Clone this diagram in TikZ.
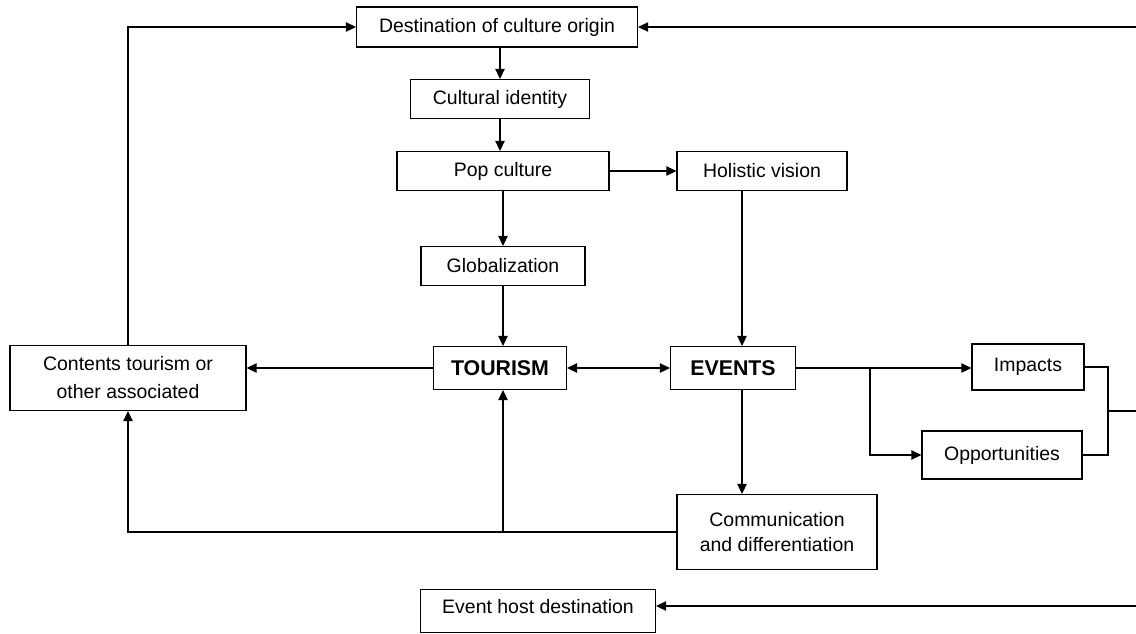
\documentclass[tikz,border=0pt]{standalone}
\usepackage{fontspec}
\setmainfont{Liberation Sans}
\usetikzlibrary{%
        arrows.meta,%
        calc%
    }

\tikzset{%
  box/.style={draw, thick, align=center, inner sep=2pt, font=\fontsize{14.6}{19}\selectfont},
  bigbox/.style={box, font=\fontsize{16}{19}\selectfont\bfseries},
  wd/.style={minimum width=#1*0.75pt},
  ht/.style={minimum height=#1*0.75pt},
  arr/.style={thick, -{Triangle[length=7.5pt,width=7pt]}},
  dbl/.style={thick, {Triangle[length=7.5pt,width=7pt]}-{Triangle[length=7.5pt,width=7pt]}},
  ln/.style={thick}
}

\begin{document}
\begin{tikzpicture}[x=0.75pt,y=-0.75pt]
  \useasboundingbox (0,0) rectangle (1136,633);
  % boxes
  \node[box,wd=281,ht=40] (dest) at (497,27) {Destination of culture origin};
  \node[box,wd=179,ht=39] (ident) at (500,99) {Cultural identity};
  \node[box,wd=212,ht=39] (pop) at (503,171) {Pop culture};
  \node[box,wd=170,ht=39] (holistic) at (762,171) {Holistic vision};
  \node[box,wd=164,ht=39] (glob) at (503,266) {Globalization};
  \node[bigbox,wd=133,ht=43] (tourism) at (500,368) {TOURISM};
  \node[bigbox,wd=125,ht=43] (events) at (733,368) {EVENTS};
  \node[box,wd=236,ht=65,font=\fontsize{14.6}{21}\selectfont] (contents) at (128,378) {Contents tourism or\\other associated};
  \node[box,wd=112,ht=46] (impacts) at (1028,367) {Impacts};
  \node[box,wd=160,ht=48] (opport) at (1002,455) {Opportunities};
  \node[box,wd=200,ht=75] (comm) at (777,532) {Communication\\and differentiation};
  \node[box,wd=235,ht=43,text depth=7.5pt] (host) at (538,611) {Event host destination};

  % helper points
  \coordinate (evx) at (742,0);
  \coordinate (split) at (870,368);
  \coordinate (brx) at (1108,0);
  \coordinate (edge) at (1136,0);

  % vertical chain
  \draw[arr] (dest.south -| ident) -- (ident.north);
  \draw[arr] (ident.south) -- (ident.south |- pop.north);
  \draw[arr] (pop.south) -- (glob.north);
  \draw[arr] (glob.south) -- (glob.south |- tourism.north);
  \draw[arr] (pop.east) -- (holistic.west);
  \draw[arr] (holistic.south -| evx) -- (evx |- events.north);

  % tourism and events
  \draw[dbl] (tourism.east) -- (events.east -| events.west);
  \draw[arr] (tourism.west) -- (contents.east |- tourism.west);
  \draw[arr] (contents.north) |- (dest.west);
  \draw[arr] (evx |- events.south) -- (evx |- comm.north);
  \draw[arr] (comm.west) -| (contents.south);
  \draw[arr] (comm.west -| glob.south) -- (glob.south |- tourism.south);

  % impacts and opportunities
  \draw[arr] (events.east) -- (events.east -| impacts.west);
  \draw[arr] (split) |- (opport.west);
  \draw[ln] (impacts.east) -| (brx |- opport.east) -- (opport.east);
  \draw[ln] ($(brx |- impacts.east)!0.5!(brx |- opport.east)$) -- (edge |- 0,411);

  % from the right edge
  \draw[arr] (edge |- dest.east) -- (dest.east);
  \draw[arr] ([yshift=3.75pt]edge |- host.east) -- ([yshift=3.75pt]host.east);
\end{tikzpicture}
\end{document}
